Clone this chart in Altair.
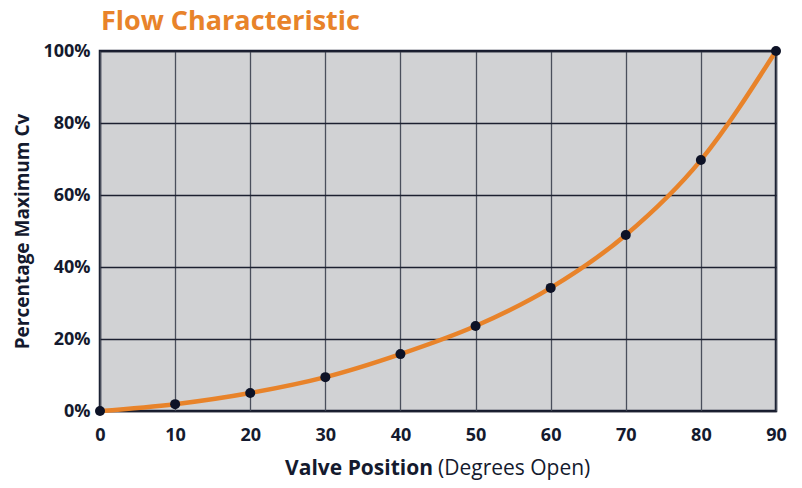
import altair as alt
import pandas as pd

positions = [0, 10, 20, 30, 40, 50, 60, 70, 80, 90]
cv_percent = [0, 1.9, 5.0, 9.4, 15.8, 23.6, 34.2, 48.9, 69.7, 100]
x_ticks = [0, 10, 20, 30, 40, 50, 60, 70, 80, 90]
y_ticks = [0, 20, 40, 60, 80, 100]

df = pd.DataFrame({"pos": positions, "cv": cv_percent})

W, H = 676, 360
FONT = "Open Sans"
DARK = "#141a2e"
ORANGE = "#E8832A"

x_enc = alt.X("pos:Q", scale=alt.Scale(domain=[0, 90], nice=False),
              axis=alt.Axis(values=x_ticks, title=None, labelFont=FONT, labelFontSize=18,
                            labelFontWeight="bold", labelColor=DARK, labelPadding=15,
                            labelFlush=False,
                            ticks=False, domain=False, gridColor="#4a4f5c", gridOpacity=1,
                            gridWidth=1.3))
y_enc = alt.Y("cv:Q", scale=alt.Scale(domain=[0, 100], nice=False),
              axis=alt.Axis(values=y_ticks, title="Percentage Maximum Cv",
                            labelExpr="datum.value + '%'", labelFont=FONT, labelFontSize=18,
                            labelFontWeight="bold", labelColor=DARK, labelPadding=10,
                            labelFlush=False,
                            titleFont=FONT, titleFontSize=19, titleFontWeight="bold",
                            titleColor=DARK, titlePadding=10,
                            ticks=False, domain=False, gridColor="#1c2030", gridOpacity=1,
                            gridWidth=1.3))

base = alt.Chart(df)
line = base.mark_line(color=ORANGE, strokeWidth=4.5, interpolate="monotone").encode(x=x_enc, y=y_enc)
pts = base.mark_circle(color="#0d1226", opacity=1, size=100).encode(x="pos:Q", y="cv:Q")

lbl = pd.DataFrame({"t": ["x"]})
t1 = alt.Chart(lbl).mark_text(text="Valve Position", font=FONT, fontSize=21, fontWeight="bold",
                              color=DARK, align="right", baseline="middle").encode(
    x=alt.value(333), y=alt.value(H + 58))
t2 = alt.Chart(lbl).mark_text(text="(Degrees Open)", font=FONT, fontSize=21, fontWeight="normal",
                              color=DARK, align="left", baseline="middle").encode(
    x=alt.value(338), y=alt.value(H + 58))

chart = alt.layer(line, pts, t1, t2).properties(
    width=W, height=H,
    background="white",
    autosize=alt.AutoSizeParams(type="none"),
    padding={"left": 92, "top": 43, "right": 18, "bottom": 69},
    title=alt.TitleParams("Flow Characteristic", anchor="start", font=FONT, fontSize=27,
                          fontWeight="bold", color=ORANGE, dx=87, offset=6),
).configure_view(fill="#d1d2d4", stroke=DARK, strokeWidth=2.5)

chart.save("out.html", embed_options={"renderer": "svg", "actions": False})
